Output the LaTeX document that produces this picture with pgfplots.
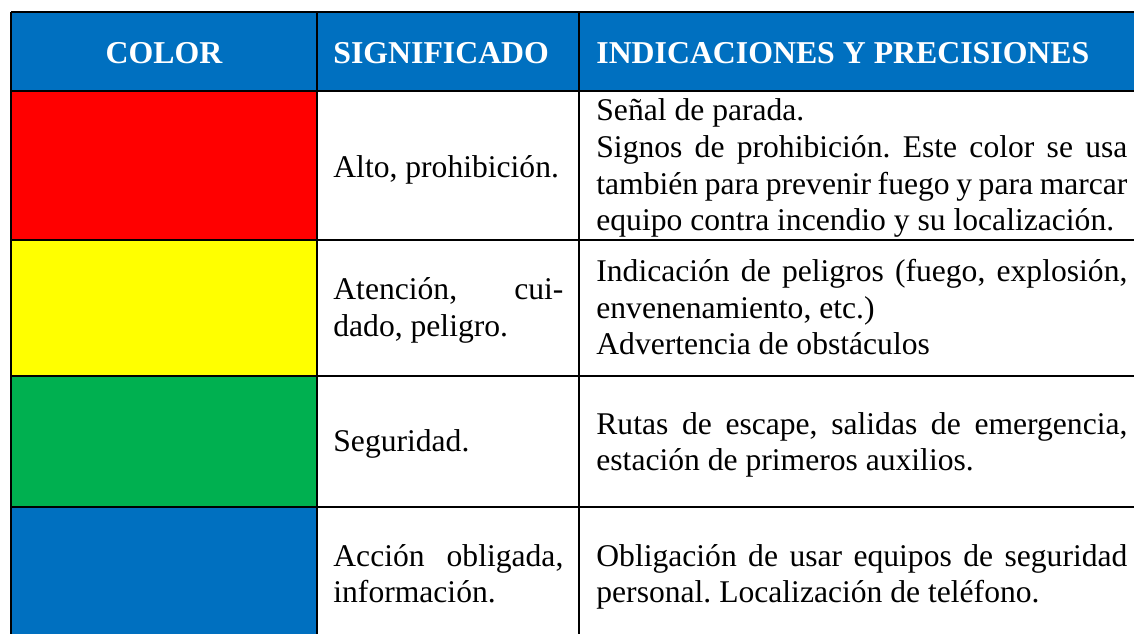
\documentclass[border=0pt]{standalone}
\usepackage{pgfplots}
\pgfplotsset{compat=1.18}
\usepackage{fontspec}
\setmainfont{Liberation Serif}
\frenchspacing
\definecolor{hblue}{HTML}{0070C0}
\definecolor{cred}{HTML}{FF0000}
\definecolor{cyel}{HTML}{FFFF00}
\definecolor{cgreen}{HTML}{00B050}
\newcommand\tf{\fontsize{15.8}{18}\selectfont}
\newcommand\hf{\fontsize{15.9}{18}\selectfont\bfseries}
\tikzset{t/.style={inner sep=0pt,anchor=base west,font=\tf},
         h/.style={inner sep=0pt,anchor=base west,font=\hf,text=white}}
\begin{document}
\begin{tikzpicture}
\begin{axis}[width=567pt,height=317pt,scale only axis,
  xmin=0,xmax=1134,ymin=0,ymax=634,y dir=reverse,hide axis,clip=true]
% background
\addplot[fill=white,draw=none] coordinates {(0,0) (1134,0) (1134,634) (0,634)} -- cycle;
% header
\addplot[fill=hblue,draw=none] coordinates {(11,12) (1134,12) (1134,91) (11,91)} -- cycle;
% colour cells
\addplot[fill=cred,draw=none] coordinates {(11,91) (317,91) (317,240) (11,240)} -- cycle;
\addplot[fill=cyel,draw=none] coordinates {(11,240) (317,240) (317,376) (11,376)} -- cycle;
\addplot[fill=cgreen,draw=none] coordinates {(11,376) (317,376) (317,507) (11,507)} -- cycle;
\addplot[fill=hblue,draw=none] coordinates {(11,507) (317,507) (317,634) (11,634)} -- cycle;
% grid lines
\addplot[black,line width=0.75pt] coordinates {(11,12) (1134,12)};
\addplot[black,line width=0.75pt] coordinates {(11,91) (1134,91)};
\addplot[black,line width=0.75pt] coordinates {(11,240) (1134,240)};
\addplot[black,line width=0.75pt] coordinates {(11,376) (1134,376)};
\addplot[black,line width=0.75pt] coordinates {(11,507) (1134,507)};
\addplot[black,line width=0.75pt] coordinates {(11,12) (11,634)};
\addplot[black,line width=0.75pt] coordinates {(317,12) (317,634)};
\addplot[black,line width=0.75pt] coordinates {(579,12) (579,634)};
% header text
\node[h,anchor=base] at (axis cs:164,63.5) {COLOR};
\node[h] at (axis cs:333,63.5) {SIGNIFICADO};
\node[h] at (axis cs:596,63.5) {INDICACIONES Y PRECISIONES};
% column 2
\node[t] at (axis cs:333,177.3) {Alto, prohibición.};
\node[t] at (axis cs:333,299.5) {\makebox[115pt][s]{Atención, cui-}};
\node[t] at (axis cs:333,336.7) {dado, peligro.};
\node[t] at (axis cs:333,451.7) {Seguridad.};
\node[t] at (axis cs:333,566.5) {\makebox[115pt][s]{Acción obligada,}};
\node[t] at (axis cs:333,602.7) {información.};
% column 3
\node[t] at (axis cs:596,120.7) {Señal de parada.};
\node[t] at (axis cs:596,157.7) {\makebox[265.5pt][s]{Signos de prohibición. Este color se usa}};
\node[t] at (axis cs:596,194.3) {\makebox[265.5pt][s]{también para prevenir fuego y para marcar}};
\node[t] at (axis cs:596,230.7) {equipo contra incendio y su localización.};
\node[t] at (axis cs:596,281.7) {\makebox[265.5pt][s]{Indicación de peligros (fuego, explosión,}};
\node[t] at (axis cs:596,318.3) {envenenamiento, etc.)};
\node[t] at (axis cs:596,354.3) {Advertencia de obstáculos};
\node[t] at (axis cs:596,434) {\makebox[265.5pt][s]{Rutas de escape, salidas de emergencia,}};
\node[t] at (axis cs:596,470) {estación de primeros auxilios.};
\node[t] at (axis cs:596,566.7) {\makebox[265.5pt][s]{Obligación de usar equipos de seguridad}};
\node[t] at (axis cs:596,602.5) {personal. Localización de teléfono.};
\end{axis}
\end{tikzpicture}
\end{document}
